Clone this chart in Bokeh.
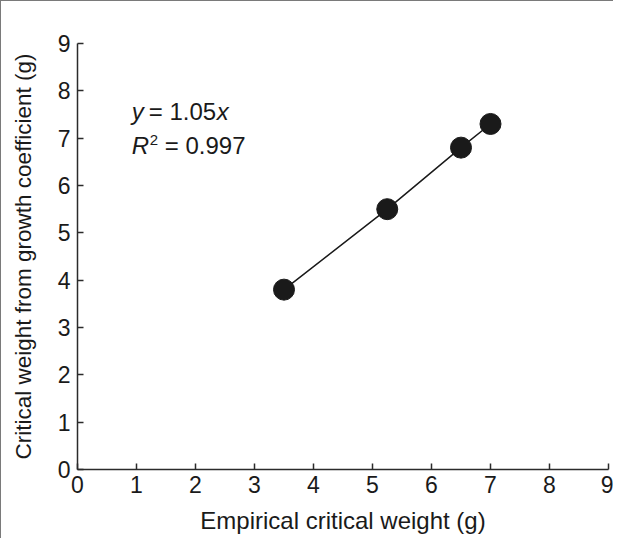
from bokeh.plotting import figure
from bokeh.models import Label, Range1d, FixedTicker
from bokeh.embed import file_html
from bokeh.resources import INLINE

# Data
empirical = [3.5, 5.25, 6.5, 7.0]
from_growth = [3.8, 5.5, 6.8, 7.3]
ticks = [0, 1, 2, 3, 4, 5, 6, 7, 8, 9]
x_title = "Empirical critical weight (g)"
y_title = "Critical weight from growth coefficient (g)"

FONT = "Liberation Sans"
AX = "#2b2b2b"
TXT = "#1a1a1a"

p = figure(width=613, height=538, output_backend="svg", toolbar_location=None,
           x_range=Range1d(0, 9), y_range=Range1d(0, 9),
           min_border_left=76, min_border_right=6, min_border_top=42, min_border_bottom=70)
p.styles = {"border-top": "1px solid #7a7a7a", "border-left": "1px solid #7a7a7a"}
p.outline_line_color = None
p.grid.visible = False
p.background_fill_color = "white"
p.border_fill_color = "white"

for ax in (p.xaxis, p.yaxis):
    ax.ticker = FixedTicker(ticks=ticks)
    ax.axis_line_color = AX
    ax.axis_line_width = 1.5
    ax.major_tick_line_color = AX
    ax.major_tick_line_width = 1.5
    ax.major_tick_in = 6
    ax.major_tick_out = 0
    ax.minor_tick_line_color = None
    ax.major_label_text_font = FONT
    ax.major_label_text_font_size = "23px"
    ax.major_label_text_color = TXT
    ax.axis_label_text_font = FONT
    ax.axis_label_text_font_style = "normal"
    ax.axis_label_text_color = TXT

p.xaxis.axis_label = x_title
p.xaxis.axis_label_text_font_size = "24px"
p.xaxis.major_label_standoff = 6
p.xaxis.axis_label_standoff = 11
p.yaxis.axis_label = y_title
p.yaxis.axis_label_text_font_size = "22.5px"
p.yaxis.major_label_standoff = 7
p.yaxis.axis_label_standoff = 19

p.line(empirical, from_growth, line_color="#1a1a1a", line_width=1.5)
p.scatter(empirical, from_growth, size=21, fill_color="#1a1a1a", line_color="#1a1a1a")

def lab(text, x, y, xo=0, yo=0, style="normal", size="24px"):
    p.add_layout(Label(x=x, y=y, x_offset=xo, y_offset=yo, text=text,
                       text_font=FONT, text_font_size=size, text_font_style=style,
                       text_color=TXT, text_baseline="alphabetic", text_align="left"))

# equation annotation
lab("y", 0.92, 7.57, style="italic")
lab("= 1.05", 0.92, 7.57, xo=17)
lab("x", 0.92, 7.57, xo=85, style="italic")
lab("R", 0.92, 6.84, style="italic")
lab("2", 0.92, 6.84, xo=18, yo=6, size="15px")
lab("= 0.997", 0.92, 6.84, xo=33)

open("out.html", "w").write(file_html(p, INLINE))
